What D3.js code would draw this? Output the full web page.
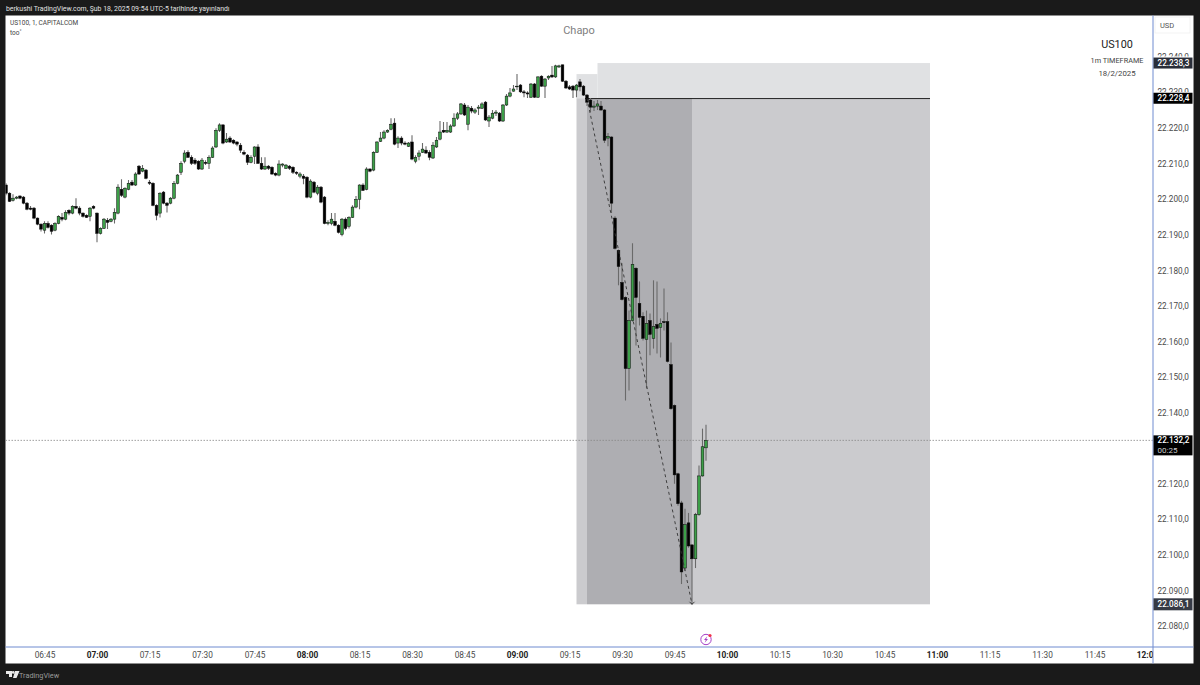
<!DOCTYPE html>
<html><head><meta charset="utf-8">
<script src="https://cdn.jsdelivr.net/npm/d3@7/dist/d3.min.js"></script>
<style>
html,body{margin:0;padding:0;background:#1a1a1a;overflow:hidden}
svg{display:block}
text{font-family:Roboto,"Open Sans",sans-serif}
</style></head><body>
<svg id="c" width="1200" height="685"></svg>
<script>
const priceBase = 22000;
const firstBar = "2025-02-18T06:34:00";
const opens = [204.0,201.7,199.7,200.3,200.9,200.6,198.9,197.5,197.5,194.7,
193.0,191.3,193.2,192.7,191.3,193.2,194.9,194.4,196.9,196.1,
198.0,197.5,196.1,195.5,195.2,198.0,196.1,190.4,191.8,194.1,
193.8,194.4,196.1,202.8,200.6,202.8,204.8,204.0,209.3,207.9,
208.2,204.8,204.5,198.3,196.1,202.0,198.9,198.9,200.3,204.5,
207.6,210.7,213.2,211.8,211.0,210.7,208.5,210.4,210.1,211.8,
214.7,219.4,220.9,216.1,217.2,216.6,216.1,215.2,213.2,212.4,
210.4,212.1,214.7,210.1,208.5,209.3,209.0,207.3,206.8,209.6,
208.7,209.3,209.0,207.6,206.5,206.5,206.2,200.6,204.8,201.7,
203.4,200.6,193.2,193.2,193.8,192.7,190.1,194.4,192.4,194.9,
197.8,200.0,204.0,202.8,208.5,208.2,213.2,216.3,217.2,218.9,
219.7,221.4,215.8,217.2,215.8,214.9,216.1,210.7,212.1,213.2,
213.8,213.2,211.6,214.7,216.9,219.4,218.9,218.9,220.6,222.8,
224.0,226.5,221.1,225.6,224.5,225.6,225.6,227.3,222.0,222.8,
224.2,224.2,222.0,226.5,229.0,230.4,231.6,232.1,230.2,229.9,
228.7,232.4,228.7,234.6,231.8,234.1,234.9,234.4,237.2,237.8,
233.2,231.6,231.8,230.7,233.0,231.8,229.3,227.9,225.9,226.2,
226.2,225.1,217.2,217.5,194.7,185.6,176.6,172.4,152.4,165.9,
180.6,170.7,167.1,160.6,165.9,160.9,164.8,164.0,165.6,165.6,
153.5,142.0,122.8,114.6,96.3,109.0,102.8,98.9,111.3,122.2,130.1];
const closes = [201.7,199.4,200.3,200.6,200.3,198.9,197.2,197.2,194.7,193.0,
191.6,193.2,192.1,191.0,193.2,195.2,194.4,196.3,196.1,198.0,
197.5,196.1,195.2,194.9,197.5,197.5,190.4,191.8,194.4,193.5,
194.4,196.3,203.4,201.1,203.1,204.5,204.0,207.1,207.1,208.7,
205.9,204.5,198.3,195.5,201.7,198.9,198.3,200.3,204.5,206.8,
210.1,213.0,211.8,210.1,210.1,208.5,211.0,210.1,211.8,214.4,
219.4,220.9,215.8,216.9,216.1,215.8,215.5,213.8,212.7,210.4,
211.8,214.7,210.1,208.5,209.3,208.7,207.1,206.8,209.9,209.9,
209.6,208.7,207.6,207.3,207.1,205.9,200.6,205.1,202.0,203.4,
199.2,193.2,193.5,194.4,192.7,190.7,194.4,191.8,194.9,197.8,
200.0,204.0,202.5,208.5,207.9,213.2,216.1,217.2,218.9,219.4,
221.1,215.5,217.2,215.8,215.5,215.8,211.3,211.8,213.0,214.1,
213.0,211.8,215.2,216.6,218.9,218.9,219.4,220.6,222.8,224.0,
226.8,223.7,225.9,224.8,225.1,225.9,226.8,222.3,223.1,224.2,
224.5,222.0,226.5,229.0,229.9,231.0,231.8,230.2,229.9,229.6,
232.4,228.7,234.4,231.8,233.8,234.6,234.4,237.5,237.5,233.2,
231.3,231.0,230.7,232.1,231.6,229.3,227.3,225.9,226.2,226.8,
225.1,216.6,217.7,198.9,186.2,181.1,171.8,152.4,165.9,181.7,
172.4,166.8,160.9,165.1,162.0,164.2,163.7,165.1,165.3,154.4,
141.1,122.5,114.4,95.2,108.5,102.5,98.9,111.3,122.2,130.4,132.2];
const highs = [204.5,202.0,201.4,200.9,201.1,200.9,199.2,198.1,197.8,194.9,
193.2,193.8,193.8,193.0,193.5,195.5,196.1,196.9,197.2,198.3,
200.3,198.0,196.3,195.8,197.8,198.3,196.3,192.1,194.7,194.7,
194.7,197.5,204.2,205.6,203.4,205.4,205.4,207.6,209.6,209.6,
208.5,205.4,204.8,198.6,202.0,202.3,199.2,200.6,205.1,207.1,
210.7,213.8,213.8,212.4,211.6,211.0,211.6,211.0,212.4,214.9,
220.0,221.4,221.1,218.6,217.7,216.9,216.3,215.8,213.8,212.7,
212.4,214.9,215.5,211.8,211.8,209.6,209.3,207.6,211.0,210.1,
209.9,209.6,209.3,207.9,207.6,207.1,206.5,205.6,205.1,204.0,
203.7,200.9,194.1,196.1,196.1,193.0,194.7,194.9,195.2,198.3,
200.9,204.2,204.5,209.0,208.7,213.5,216.3,218.9,219.4,219.7,
222.8,222.8,217.7,217.7,216.3,216.1,218.0,212.4,213.8,215.8,
214.9,213.8,216.1,217.5,222.0,221.7,221.7,221.1,224.2,224.5,
227.1,227.1,226.5,226.2,225.6,226.5,227.3,227.6,223.7,225.1,
225.1,224.5,226.8,229.6,231.3,232.1,235.2,232.4,230.7,230.4,
232.7,232.7,234.6,234.9,234.1,234.9,237.5,237.8,237.8,237.8,
233.5,232.1,232.1,232.4,233.8,232.1,229.6,228.5,227.6,227.9,
227.6,225.4,218.6,217.7,195.2,185.9,182.0,172.7,168.7,187.6,
180.9,176.9,168.2,168.7,167.9,177.2,176.9,166.5,174.9,168.2,
159.7,142.3,123.1,115.2,113.0,111.8,103.0,111.8,125.1,135.5,136.6];
const lows = [201.1,199.2,199.4,200.0,200.0,198.6,196.9,196.9,194.4,192.7,
190.9,190.4,191.8,190.1,191.0,193.0,193.8,194.1,195.5,195.8,
197.2,195.5,194.9,194.7,193.8,197.2,187.9,190.1,191.6,191.6,
193.5,193.2,195.8,200.6,200.3,202.5,203.7,203.7,206.8,207.6,
205.6,204.0,198.0,194.1,194.9,198.6,196.3,198.6,200.0,204.2,
206.8,210.1,211.6,209.6,209.6,208.2,208.2,209.6,208.5,211.6,
214.4,218.9,215.5,215.8,215.8,215.5,214.9,213.0,212.4,209.6,
210.1,209.9,209.9,208.2,208.2,208.2,206.8,206.5,206.5,209.0,
208.5,208.2,207.1,206.8,205.9,204.2,200.3,200.3,201.7,201.1,
198.9,193.0,192.7,192.7,192.4,190.4,189.6,191.3,191.8,194.7,
197.5,197.2,202.3,202.5,207.6,207.9,213.0,216.1,216.9,218.6,
219.4,215.2,214.4,215.2,215.2,214.7,211.0,210.1,211.0,213.0,
212.7,211.0,211.3,214.4,216.6,218.6,218.6,218.6,220.3,222.3,
223.7,223.4,219.4,224.2,224.0,223.7,225.4,222.0,220.3,222.5,
223.4,221.7,221.7,226.2,228.7,230.2,230.7,229.9,228.7,228.5,
228.5,228.5,228.5,231.6,228.5,233.5,234.1,234.1,236.9,233.0,
231.0,230.7,228.5,228.7,230.4,229.0,226.2,224.5,224.8,225.1,
224.8,215.8,214.9,196.1,185.9,175.8,171.5,143.4,146.2,165.6,
158.9,164.5,160.3,146.8,156.1,158.0,156.6,155.5,163.1,154.1,
140.8,120.0,113.8,91.8,95.5,102.0,86.1,96.3,111.0,122.0,126.5];

const priceTicks = d3.range(22080, 22241, 10).filter(p => p !== 22240 && p !== 22230);
const hiddenTicks = [22240, 22230];
const timeTicks = ["06:45","07:00","07:15","07:30","07:45","08:00","08:15","08:30","08:45","09:00","09:15","09:30","09:45","10:00","10:15","10:30","10:45","11:00","11:15","11:30","11:45","12:00"];
const stopPrice = 22238.3, stopPriceEarly = 22235.2, entryPrice = 22228.4, targetPrice = 22086.1, lastPrice = 22132.2;
const zoneTimes = ["09:17","09:20","09:23","09:50","10:58"];
const lastBarTimer = "00:25";

const W=1200,H=685, L=5.5, R=1193.5, T=15.5, B=663.5, AX=1153, AY=647;
const at = s => new Date("2025-02-18T"+s+":00");
const x = d3.scaleTime().domain([at("07:00"),at("12:00")]).range([97,1147]);
const y = d3.scaleLinear().domain([22080,22240]).range([626,57]);
const locale = d3.formatLocale({decimal:",",thousands:".",grouping:[3],currency:["",""]});
const fmtP = locale.format(",.1f");
const fmtT = d3.timeFormat("%H:%M");

const svg = d3.select("#c");
svg.append("rect").attr("width",W).attr("height",H).attr("fill","#1a1a1a");
svg.append("rect").attr("x",L).attr("y",T).attr("width",R-L).attr("height",B-T).attr("fill","#fff");
svg.append("defs").append("clipPath").attr("id","plot").append("rect").attr("x",L).attr("y",T).attr("width",AX-L).attr("height",AY-T);
svg.select("defs").append("clipPath").attr("id","xaxis").append("rect").attr("x",L).attr("y",AY).attr("width",AX-L).attr("height",B-AY);
const plot = svg.append("g").attr("clip-path","url(#plot)");

// position tool zones
const [t0,t1,t2,t3,t4] = zoneTimes.map(at);
const zones = [
 [t0,t2,stopPriceEarly,entryPrice,"#e0e1e3"],
 [t2,t4,stopPrice,entryPrice,"#e0e1e3"],
 [t0,t1,entryPrice,targetPrice,"#cbcbce"],
 [t1,t3,entryPrice,targetPrice,"#aeaeb2"],
 [t3,t4,entryPrice,targetPrice,"#cbcbce"]];
plot.selectAll("rect.z").data(zones).join("rect").attr("class","z")
 .attr("x",d=>x(d[0])).attr("width",d=>x(d[1])-x(d[0]))
 .attr("y",d=>y(d[2])).attr("height",d=>y(d[3])-y(d[2])).attr("fill",d=>d[4]);
plot.append("line").attr("x1",x(t1)-2).attr("x2",x(t4)).attr("y1",y(entryPrice)+.3).attr("y2",y(entryPrice)+.3).attr("stroke","#111").attr("stroke-width",.9);

// last price line
plot.append("line").attr("x1",L).attr("x2",AX).attr("y1",y(lastPrice)).attr("y2",y(lastPrice)).attr("stroke","#888").attr("stroke-width",.8).attr("stroke-dasharray","1.5 1.5");

// candles
const bars = opens.map((o,i)=>({t:d3.timeMinute.offset(new Date(firstBar),i),o:o+priceBase,c:closes[i]+priceBase,h:highs[i]+priceBase,l:lows[i]+priceBase}));
const g = plot.selectAll("g.bar").data(bars).join("g").attr("class","bar");
g.append("line").attr("x1",d=>x(d.t)).attr("x2",d=>x(d.t)).attr("y1",d=>y(d.h)).attr("y2",d=>y(d.l)).attr("stroke","#6a6a6a").attr("stroke-width",1.1);
g.append("rect").attr("x",d=>x(d.t)-1.35).attr("width",2.7)
 .attr("y",d=>y(Math.max(d.o,d.c))).attr("height",d=>Math.max(.6,Math.abs(y(d.o)-y(d.c))))
 .attr("fill",d=>d.c>=d.o?"#3c9f48":"#000").attr("stroke","#0a0a0a").attr("stroke-width",.5);

// dashed trend path over the move
plot.append("line").attr("x1",x(t1)).attr("y1",y(entryPrice)).attr("x2",x(t3)).attr("y2",y(targetPrice)).attr("stroke","#333").attr("stroke-width",.9).attr("stroke-dasharray","3 3");
const ax=x(t3), ay=y(targetPrice);
plot.append("path").attr("d",`M${ax-2.5},${ay-2.5}L${ax},${ay}L${ax+2.5},${ay-2.5}`).attr("fill","none").attr("stroke","#333").attr("stroke-width",.9);

// axes
const yAxis = d3.axisRight(y).tickValues(priceTicks).tickSize(0).tickPadding(4.5).tickFormat(fmtP);
const ya = svg.append("g").attr("transform",`translate(${AX},0)`).call(yAxis);
ya.select(".domain").remove();
ya.selectAll("text").attr("font-size",8.2).attr("fill","#4a4a4a").attr("font-family","Roboto");
const xAxis = d3.axisBottom(x).tickValues(timeTicks.map(at)).tickSize(0).tickPadding(5).tickFormat(fmtT);
const xa = svg.append("g").attr("clip-path","url(#xaxis)").append("g").attr("transform",`translate(0,${AY})`).call(xAxis);
xa.select(".domain").remove();
xa.selectAll("text").attr("font-size",8.3).attr("fill",d=>d.getMinutes()===0?"#222":"#4a4a4a").attr("font-weight",d=>d.getMinutes()===0?700:400).attr("font-family","Roboto");

svg.append("line").attr("x1",AX).attr("x2",AX).attr("y1",T).attr("y2",B).attr("stroke","#6f8bd0").attr("stroke-width",1);
svg.append("line").attr("x1",L).attr("x2",R).attr("y1",AY).attr("y2",AY).attr("stroke","#6f8bd0").attr("stroke-width",1);

// price tags (the two axis labels that sit behind them peek out above, clipped so only their tops show)
svg.select("defs").selectAll("clipPath.peek").data(hiddenTicks).join("clipPath").attr("class","peek").attr("id",(d,i)=>"peek"+i)
 .append("rect").attr("x",AX).attr("y",d=>y(d)-6).attr("width",40).attr("height",5.5);
svg.selectAll("text.peek").data(hiddenTicks).join("text").attr("class","peek").attr("clip-path",(d,i)=>`url(#peek${i})`)
 .attr("x",AX+4.5).attr("y",d=>y(d)+2.8).attr("font-size",8.2).attr("fill","#4a4a4a").text(fmtP);
const tags=[[stopPrice,"#2a2e39",11],[entryPrice,"#000",11],[targetPrice,"#363a45",12]];
tags.forEach(([p,col,h])=>{
 const py=y(p);
 svg.append("rect").attr("x",AX+.5).attr("y",py-h/2).attr("width",39).attr("height",h).attr("fill",col);
 svg.append("text").attr("x",AX+4.5).attr("y",py+2.9).attr("font-size",8.2).attr("font-weight",500).attr("fill","#fff").text(fmtP(p));
});
const ly=y(lastPrice);
svg.append("rect").attr("x",AX+.5).attr("y",ly-5).attr("width",39).attr("height",20).attr("fill","#000");
svg.append("text").attr("x",AX+4.5).attr("y",ly+2.9).attr("font-size",8.2).attr("font-weight",500).attr("fill","#fff").text(fmtP(lastPrice));
svg.append("text").attr("x",AX+4.5).attr("y",ly+12.5).attr("font-size",8).attr("fill","#ccc").text(lastBarTimer);

// USD box
svg.append("rect").attr("x",1155).attr("y",17).attr("width",35).attr("height",16).attr("fill","#fff").attr("stroke","#eee").attr("stroke-width",.7);
svg.append("text").attr("x",1160).attr("y",28).attr("font-size",7.5).attr("fill","#555").text("USD");

// texts
const txt=(t,xp,yp,fs,col,anc)=>svg.append("text").attr("x",xp).attr("y",yp).attr("font-size",fs).attr("fill",col).attr("text-anchor",anc||"start").text(t);
txt("berkushi TradingView.com, Şub 18, 2025 09:54 UTC-5 tarihinde yayınlandı",6,10.5,6.9,"#e0e0e0");
txt("US100, 1, CAPITALCOM",10,25,6.5,"#444");
txt("too˚",10,35,6.5,"#444");
txt("Chapo",579,34,11,"#808080","middle");
txt("US100",1117,48,10.8,"#222","middle");
txt("1m TIMEFRAME",1117,63,7.3,"#444","middle");
txt("18/2/2025",1117,76,7.8,"#444","middle");

// bolt icon
const ic=svg.append("g").attr("transform",`translate(${x(at("09:54"))},639.5)`);
ic.append("circle").attr("r",5.2).attr("fill","#fff").attr("stroke","#a63fc6").attr("stroke-width",1);
ic.append("path").attr("d","M1.3,-3.2L-2,0.6H-0.2L-1.3,3.2L2,-0.6H0.2Z").attr("fill","#a63fc6");
ic.append("circle").attr("cx",4).attr("cy",-4).attr("r",1.6).attr("fill","#f0334b");

// footer logo
const lg=svg.append("g").attr("transform","translate(6,671)").attr("fill","#e8e8e8");
lg.append("path").attr("d","M0,0H6V6H3V3H0ZM9,0H13.5L10.5,7H7Z");
lg.append("circle").attr("cx",7.2).attr("cy",1.4).attr("r",1.3);
txt("TradingView",19,678,7.3,"#9a9a9a");
</script>
</body></html>
